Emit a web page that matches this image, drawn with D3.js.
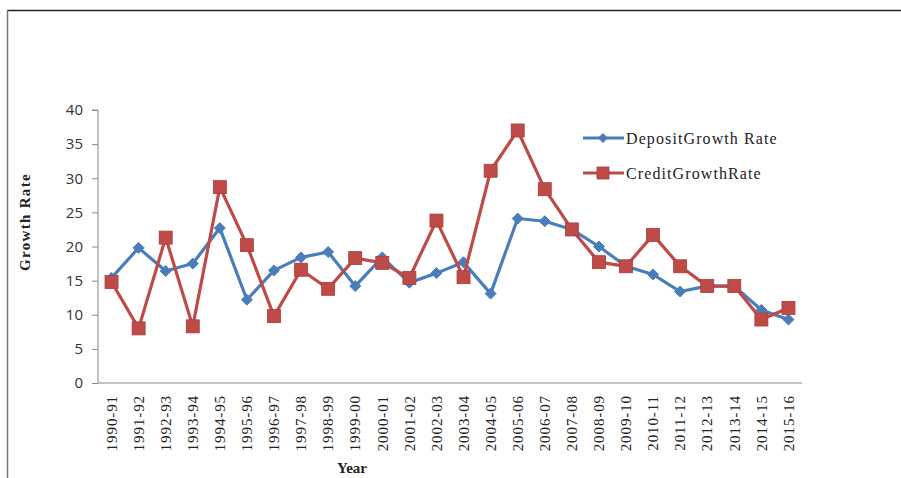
<!DOCTYPE html>
<html><head><meta charset="utf-8">
<script src="https://cdn.jsdelivr.net/npm/d3@7"></script>
<style>body{margin:0;background:#fff}svg{display:block}</style>
</head><body>
<script>
const categories = ["1990-91","1991-92","1992-93","1993-94","1994-95","1995-96","1996-97","1997-98","1998-99","1999-00","2000-01","2001-02","2002-03","2003-04","2004-05","2005-06","2006-07","2007-08","2008-09","2009-10","2010-11","2011-12","2012-13","2013-14","2014-15","2015-16"];
const depositGrowth = [15.4,19.8,16.4,17.5,22.7,12.2,16.5,18.4,19.2,14.2,18.4,14.7,16.1,17.7,13.1,24.1,23.7,22.5,20.0,17.1,15.9,13.4,14.2,14.2,10.7,9.3];
const creditGrowth = [14.8,8.0,21.3,8.3,28.7,20.2,9.8,16.6,13.8,18.3,17.6,15.4,23.8,15.5,31.1,37.0,28.4,22.5,17.7,17.1,21.7,17.1,14.2,14.2,9.3,11.0];
const yTicks = [0,5,10,15,20,25,30,35,40];
const seriesNames = ["DepositGrowth Rate","CreditGrowthRate"];

const W = 901, H = 478;
const svg = d3.select("body").append("svg").attr("width", W).attr("height", H);

// frame
svg.append("line").attr("x1",7).attr("x2",W).attr("y1",10.5).attr("y2",10.5).attr("stroke","#222").attr("stroke-width",1.5);
svg.append("line").attr("x1",7.5).attr("x2",7.5).attr("y1",10).attr("y2",H).attr("stroke","#777").attr("stroke-width",1.5);

const pL = 98, pR = 802, pT = 110, pB = 383;
const x = d3.scaleBand().domain(categories).range([pL, pR]);
const y = d3.scaleLinear().domain([0, 40]).range([pB, pT]);

// y axis
const yAxis = svg.append("g").attr("transform", `translate(${pL},0)`)
  .call(d3.axisLeft(y).tickValues(yTicks).tickSize(6).tickPadding(9));
yAxis.select(".domain").attr("stroke","#888").attr("d", `M-6,${pT}H0V${pB}`);
yAxis.selectAll(".tick line").attr("stroke","#888");
yAxis.selectAll("text").attr("font-family","'Open Sans', 'DejaVu Sans', sans-serif").attr("font-size",15).attr("fill","#333");

// x axis
const xAxis = svg.append("g").attr("transform", `translate(0,${pB})`)
  .call(d3.axisBottom(x).tickSize(0).tickPadding(0));
xAxis.select(".domain").attr("stroke","#888").attr("d", `M${pL},0H${pR}`);
xAxis.selectAll(".tick text")
  .attr("font-family","'Liberation Serif', 'Times New Roman', serif").attr("font-size",15).attr("letter-spacing","0.9px").attr("fill","#222")
  .attr("transform","rotate(-90)").attr("text-anchor","end").attr("x",-12).attr("y",0).attr("dy","0.35em");

// axis titles
svg.append("text").attr("x",352).attr("y",473).attr("text-anchor","middle")
  .attr("font-family","'Liberation Serif', serif").attr("font-weight","bold").attr("font-size",15).attr("fill","#222").text("Year");
svg.append("text").attr("transform","translate(30,222) rotate(-90)").attr("text-anchor","middle")
  .attr("font-family","'Liberation Serif', serif").attr("font-weight","bold").attr("font-size",15).attr("letter-spacing","1.3px").attr("fill","#222").text("Growth Rate");

const blue = "#4a7ebb", red = "#be4b48";
const cx = d => x(d) + x.bandwidth()/2;
const line = d3.line().x((d,i) => cx(categories[i])).y(d => y(d));

function diamond(g, px, py, s, c){
  g.append("path").attr("d", `M${px},${py-s}L${px+s},${py}L${px},${py+s}L${px-s},${py}Z`).attr("fill",c).attr("stroke",c).attr("stroke-width",1);
}
function square(g, px, py, s, c){
  g.append("rect").attr("x",px-s).attr("y",py-s).attr("width",2*s).attr("height",2*s).attr("fill",c).attr("stroke","#a83d3a").attr("stroke-width",0.8);
}

// deposit series
svg.append("path").datum(depositGrowth).attr("d", line).attr("fill","none").attr("stroke",blue).attr("stroke-width",3.2).attr("stroke-linejoin","round");
const gd = svg.append("g");
depositGrowth.forEach((v,i) => diamond(gd, cx(categories[i]), y(v), 5.5, blue));

// credit series
svg.append("path").datum(creditGrowth).attr("d", line).attr("fill","none").attr("stroke",red).attr("stroke-width",3.2).attr("stroke-linejoin","round");
const gc = svg.append("g");
creditGrowth.forEach((v,i) => square(gc, cx(categories[i]), y(v), 6.5, red));

// legend
const lg = svg.append("g");
[[blue,138,"d"],[red,173,"s"]].forEach(([c,ly,m],i) => {
  lg.append("line").attr("x1",583).attr("x2",624).attr("y1",ly).attr("y2",ly).attr("stroke",c).attr("stroke-width",3.2);
  if (m === "d") diamond(lg, 603, ly, 4.5, c); else square(lg, 603, ly, 6, c);
  lg.append("text").attr("x",626).attr("y",ly).attr("dy","0.35em")
    .attr("font-family","'Liberation Serif', serif").attr("font-size",16).attr("letter-spacing","1.1px").attr("fill","#222").text(seriesNames[i]);
});
</script>
</body></html>
